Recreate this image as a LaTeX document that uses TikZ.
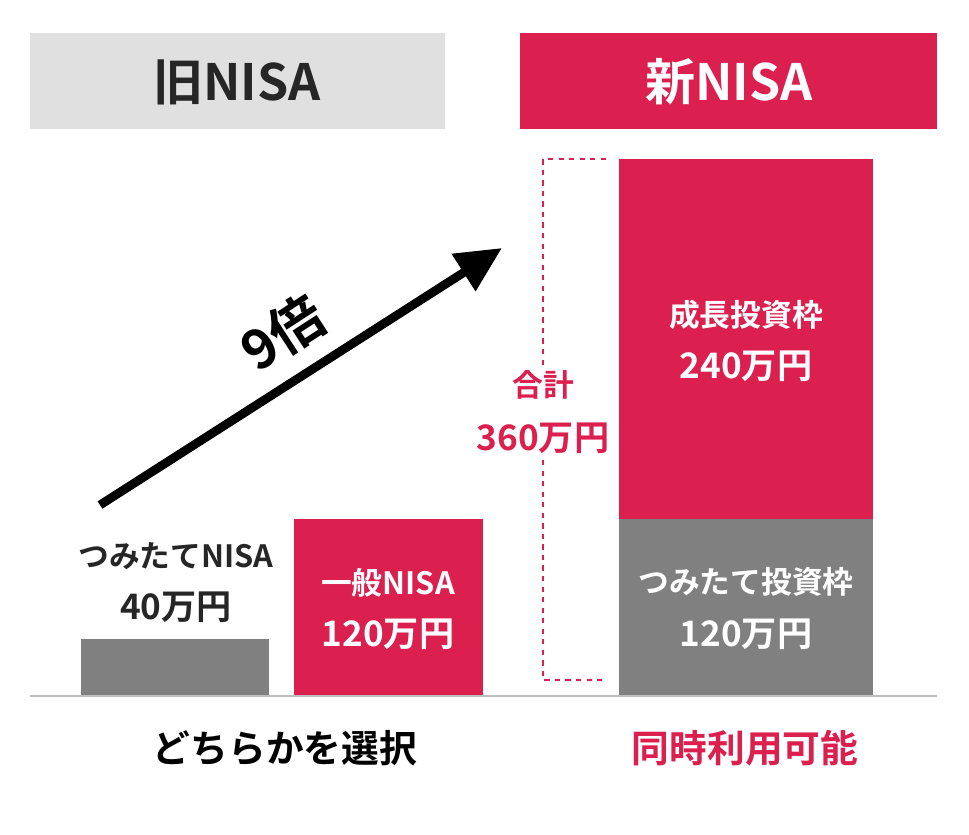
\documentclass[tikz,border=0pt]{standalone}
\usepackage{fontspec}
\setmainfont{Noto Sans CJK JP}[BoldFont={Noto Sans CJK JP Bold}]
\usetikzlibrary{arrows.meta}
\definecolor{nisared}{HTML}{DB1F4E}
\definecolor{nisagrey}{HTML}{808080}
\definecolor{headgrey}{HTML}{E0E0E0}
\tikzset{
  lbl/.style={font=\bfseries\fontsize{17.5}{21}\selectfont, inner sep=0pt},
  val/.style={font=\bfseries\fontsize{20}{24}\selectfont, inner sep=0pt},
  head/.style={font=\bfseries\fontsize{28.5}{34}\selectfont, inner sep=0pt},
  foot/.style={font=\bfseries\fontsize{21.5}{26}\selectfont, inner sep=0pt},
}
\begin{document}
\begin{tikzpicture}[x=0.02cm, y=-0.02cm]
\useasboundingbox (0,0) rectangle (969,834);

% Headers
\fill[headgrey] (30,33) rectangle (445,129);
\node[head, text=black!85] (oldh) at (237,82) {旧NISA};
\fill[nisared] (520,33) rectangle (937,129);
\node[head, text=white] (newh) at (729,82) {新NISA};

% Bars
\fill[nisagrey] (81,639) rectangle (269,696);
\fill[nisared] (294,519) rectangle (483,696);
\fill[nisared] (619,159) rectangle (873,519);
\fill[nisagrey] (619,519) rectangle (873,696);

% Baseline
\draw[black!25, line width=1.2pt] (30,696) -- (937,696);

% Bar labels
\node[lbl, text=black!85] (tsumi) at (176,556) {つみたてNISA};
\node[val, text=black!85] (tsumiv) at (176,607) {40万円};
\node[lbl, text=white] (ippan) at (388,583) {一般NISA};
\node[val, text=white] (ippanv) at (388,634) {120万円};
\node[lbl, text=white] (seicho) at (746,315) {成長投資枠};
\node[val, text=white] (seichov) at (746,366) {240万円};
\node[lbl, text=white] (tsumiw) at (746,582) {つみたて投資枠};
\node[val, text=white] (tsumiwv) at (746,634) {120万円};

% Total bracket
\node[lbl, text=nisared] (gokei) at (543,385) {合計};
\node[val, text=nisared] (gokeiv) at (543,438) {360万円};
\draw[nisared, dashed, line width=1.2pt] (606,159) -- (543,159) -- (543,365);
\draw[nisared, dashed, line width=1.2pt] (543,460) -- (543,680) -- (606,680);

% Arrow
\coordinate (from) at (100,505);
\coordinate (to) at (502,248);
\draw[line width=5pt, -{Triangle[length=26pt, width=24pt]}] (from) -- (to);
\node[font=\bfseries\fontsize{31}{36}\selectfont, rotate=33, inner sep=0pt] (nine) at (283,333) {9倍};

% Footers
\node[foot, text=black] (either) at (285,748) {どちらかを選択};
\node[foot, text=nisared] (both) at (745,748) {同時利用可能};
\end{tikzpicture}
\end{document}
